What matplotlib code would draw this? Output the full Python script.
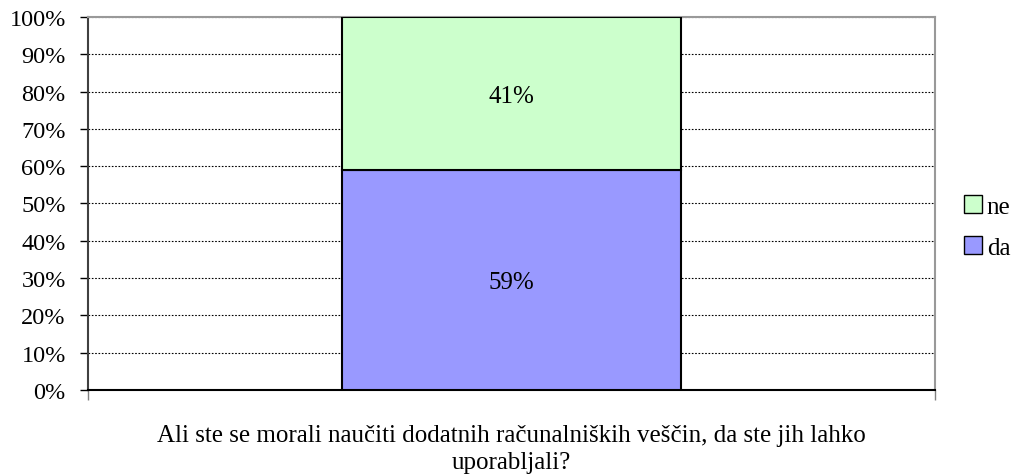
import matplotlib
matplotlib.use("Agg")
import matplotlib.pyplot as plt
from matplotlib.patches import Patch

categories = ["Ali ste se morali naučiti dodatnih računalniških veščin, da ste jih lahko\nuporabljali?"]
da_values = [59]
ne_values = [41]
yticks = [0, 10, 20, 30, 40, 50, 60, 70, 80, 90, 100]

plt.rcParams['font.family'] = ['Liberation Serif', 'DejaVu Serif']

fig = plt.figure(figsize=(10.14, 4.77), dpi=100)
ax = fig.add_axes([0.0868, 0.1803, 0.8352, 0.782])

x = list(range(len(categories)))
ax.bar(x, da_values, width=0.4, color='#9999ff', edgecolor='black', linewidth=1.5, zorder=3)
ax.bar(x, ne_values, width=0.4, bottom=da_values, color='#ccffcc', edgecolor='black', linewidth=1.5, zorder=3)
for xi, d, n in zip(x, da_values, ne_values):
    ax.text(xi, d / 2, f"{d}%", ha='center', va='center_baseline', fontsize=18, zorder=4)
    ax.text(xi, d + n / 2, f"{n}%", ha='center', va='center_baseline', fontsize=18, zorder=4)

ax.set_xlim(-0.5, 0.5)
ax.set_ylim(0, 100)
ax.set_yticks(yticks)
ax.set_yticklabels([f"{t}%" for t in yticks], fontsize=17.5)
ax.yaxis.grid(True, linestyle=(0, (1.5, 1.5)), color='black', linewidth=0.8, zorder=0)
ax.set_xticks([-0.5, 0.5])
ax.set_xticklabels(['', ''])
ax.tick_params(axis='x', length=7, width=1, color='#808080')
ax.tick_params(axis='y', length=6, width=1, color='black', pad=10)
ax.set_xlabel(categories[0], fontsize=18, linespacing=1.3, labelpad=14)

for s in ['top', 'right']:
    ax.spines[s].set_color('#999999')
    ax.spines[s].set_linewidth(1.5)
ax.spines['left'].set_color('#404040')
ax.spines['left'].set_linewidth(1.5)
ax.spines['bottom'].set_color('black')
ax.spines['bottom'].set_linewidth(1.5)

handles = [Patch(facecolor='#ccffcc', edgecolor='black', label='ne'),
           Patch(facecolor='#9999ff', edgecolor='black', label='da')]
fig.legend(handles=handles, loc='center left', bbox_to_anchor=(0.951, 0.522), frameon=False,
           fontsize=18, handlelength=0.7, handleheight=0.7, handletextpad=0.2, labelspacing=0.75,
           borderpad=0, borderaxespad=0)

fig.savefig("out.png", dpi=100)
